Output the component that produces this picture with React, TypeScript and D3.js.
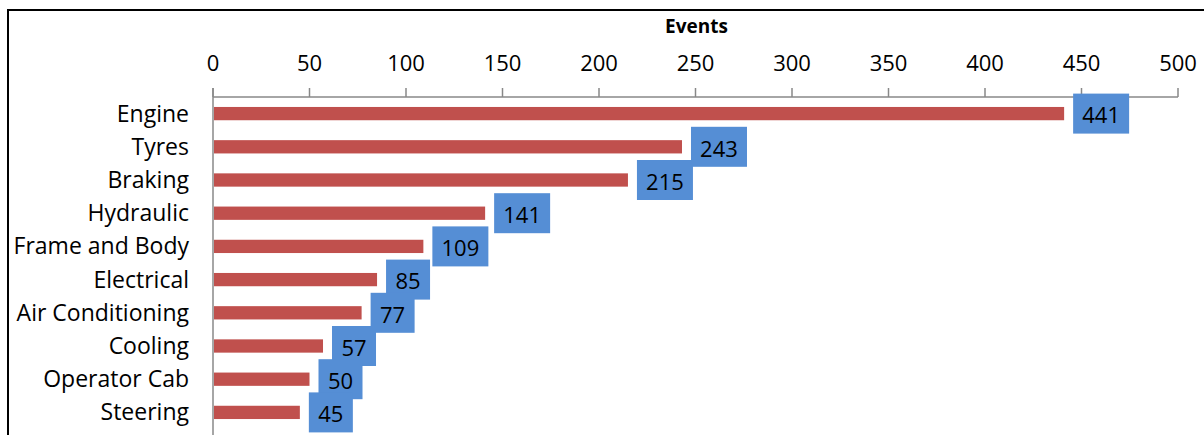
import React, { useEffect } from "react";
import * as d3 from "d3";

const categories = ["Engine", "Tyres", "Braking", "Hydraulic", "Frame and Body", "Electrical", "Air Conditioning", "Cooling", "Operator Cab", "Steering"];
const events = [441, 243, 215, 141, 109, 85, 77, 57, 50, 45];
const xTicks = [0, 50, 100, 150, 200, 250, 300, 350, 400, 450, 500];
const axisTitle = "Events";

const W = 1204;
const H = 435;
const FONT = "'Open Sans', sans-serif";

export default function App() {
  useEffect(() => {
    document.body.style.margin = "0";
    document.body.style.overflow = "hidden";
  }, []);

  const x = d3.scaleLinear().domain([0, 500]).range([213, 1178]);
  const axisY = 97;
  const y = d3.scaleBand<string>().domain(categories).range([axisY, axisY + 332]).paddingInner(0.6).paddingOuter(0.3);

  return (
    <svg width={W} height={H} style={{ display: "block", fontFamily: FONT }}>
      <rect x={0} y={0} width={W} height={H} fill="#fff" />
      <rect x={8} y={10} width={W + 20} height={H + 20} fill="none" stroke="#000" strokeWidth={2} />
      <text x={(x(0) + x(500)) / 2 + 1} y={33} textAnchor="middle" fontSize={19} fontWeight="bold" fill="#000">{axisTitle}</text>
      {xTicks.map((t) => (
        <g key={t}>
          <line x1={x(t)} x2={x(t)} y1={axisY - 9} y2={axisY} stroke="#888" strokeWidth={1.5} />
          <text x={x(t)} y={71} textAnchor="middle" fontSize={22} fill="#000">{t}</text>
        </g>
      ))}
      <line x1={x(0)} x2={x(500)} y1={axisY} y2={axisY} stroke="#888" strokeWidth={1.5} />
      <line x1={x(0)} x2={x(0)} y1={axisY - 9} y2={H + 5} stroke="#888" strokeWidth={1.5} />
      {categories.map((c, i) => {
        const yc = (y(c) as number) + y.bandwidth() / 2;
        const v = events[i];
        return (
          <g key={c}>
            <text x={189} y={yc} dy="0.35em" textAnchor="end" fontSize={23} fill="#000">{c}</text>
            <rect x={x(0) + 1} y={y(c)} width={x(v) - x(0) - 1} height={y.bandwidth()} fill="#C0504D" />
          </g>
        );
      })}
      {categories.map((c, i) => {
        const yc = (y(c) as number) + y.bandwidth() / 2;
        const v = events[i];
        const label = String(v);
        const bw = label.length === 3 ? 56 : 44;
        const bx = x(v) + 9;
        return (
          <g key={c + "-lbl"}>
            <rect x={bx} y={yc - 20} width={bw} height={40} fill="#558ED5" />
            <text x={bx + bw / 2} y={yc + 2} dy="0.35em" textAnchor="middle" fontSize={22} fill="#000">{label}</text>
          </g>
        );
      })}
    </svg>
  );
}
